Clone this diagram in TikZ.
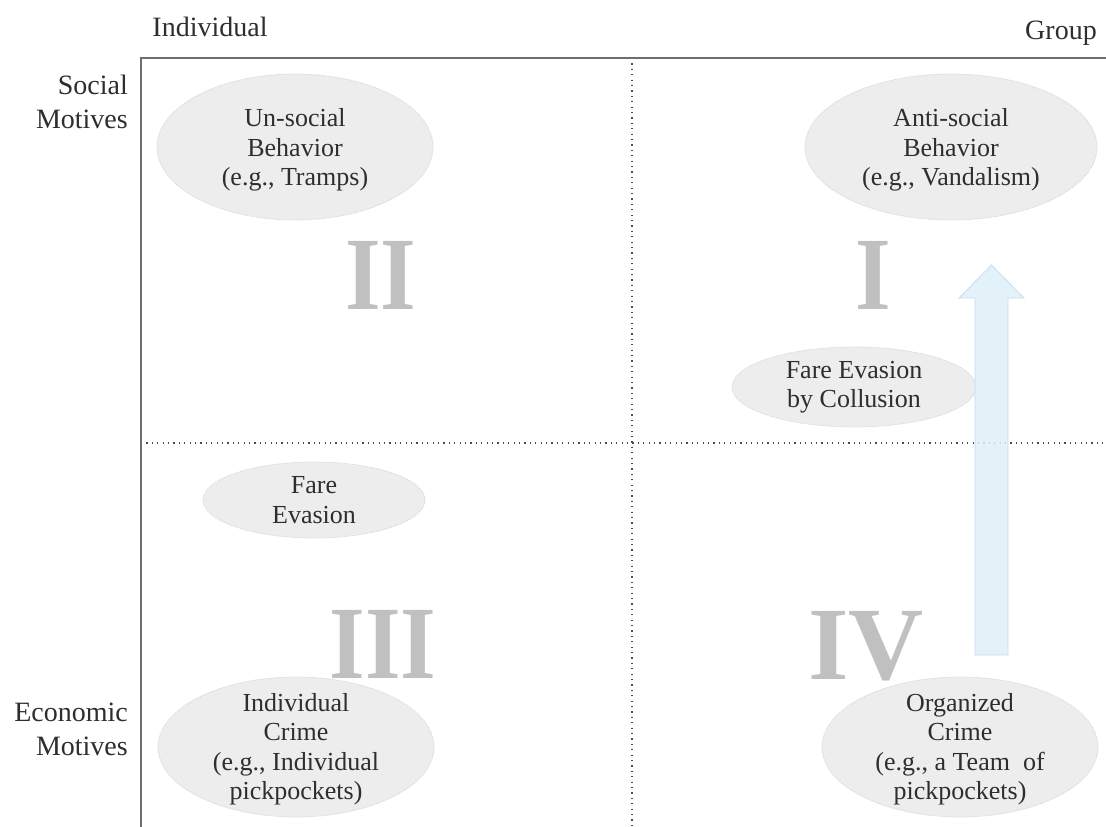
\documentclass[tikz,border=0pt]{standalone}
\usepackage{fontspec}
\setmainfont{Liberation Serif}
\usetikzlibrary{shapes.geometric}
\definecolor{blobfill}{HTML}{EDEDED}
\definecolor{blobedge}{HTML}{DADADA}
\definecolor{numgray}{HTML}{C0C0C0}
\definecolor{txt}{HTML}{2E2E2E}
\definecolor{arrfill}{HTML}{DEEEF8}
\definecolor{arredge}{HTML}{C6DEEE}
\definecolor{axisgray}{HTML}{6E6E6E}
\begin{document}
\begin{tikzpicture}[x=1pt,y=-1pt,
 blob/.style={ellipse, fill=blobfill, draw=blobedge, line width=0.8pt, dash pattern=on 1.5pt off 1pt, inner sep=0pt},
 btext/.style={text=txt, align=center, font=\fontsize{26}{29.5}\selectfont, inner sep=0pt},
 axlabel/.style={text=txt, font=\fontsize{28}{34}\selectfont, inner sep=0pt},
 numeral/.style={text=numgray, font=\fontsize{104}{104}\selectfont\bfseries, inner sep=0pt, anchor=base},
 narrownum/.style={numeral, xscale=0.88, transform shape},
 divider/.style={draw=black!70, line width=1.2pt, dash pattern=on 1.2pt off 4.2pt},
 axisline/.style={draw=axisgray, line width=1.8pt},
 bigarrow/.style={fill=arrfill, draw=arredge, line width=0.8pt, fill opacity=0.85}]

\useasboundingbox (0,0) rectangle (1106,827);

% axes and dividers
\coordinate (origin) at (141,58);
\coordinate (xend) at (1106,58);
\coordinate (yend) at (141,827);
\coordinate (vtop) at (632,58);
\coordinate (vbot) at (632,827);
\coordinate (hleft) at (141,443);
\coordinate (hright) at (1106,443);
\draw[divider] (vtop) -- (vbot);
\draw[divider] (hleft) -- (hright);
\draw[axisline] (xend) -- (origin) -- (yend);

% axis labels
\node[axlabel, anchor=base] (indiv) at (210,36) {Individual};
\node[axlabel, anchor=base] (group) at (1061,39) {Group};
\node[axlabel, anchor=base east, align=right] (social) at (128,128) {Social\\Motives};
\node[axlabel, anchor=base east, align=right] (econ) at (128,755) {Economic\\Motives};

% quadrant numerals
\node[narrownum] (q2) at (381,309) {II};
\node[narrownum] (q1) at (873,309) {I};
\node[narrownum] (q3) at (383,678) {III};
\node[numeral] (q4) at (866,679) {IV};

% ellipses
\node[blob, minimum width=276, minimum height=146] (unsocial) at (295,147) {};
\node[btext] (unsocialtxt) at (295,150) {Un-social\\Behavior\\(e.g., Tramps)};

\node[blob, minimum width=292, minimum height=146] (antisocial) at (951,147) {};
\node[btext] (antisocialtxt) at (951,150) {Anti-social\\Behavior\\(e.g., Vandalism)};

\node[blob, minimum width=244, minimum height=80] (collusion) at (854,387) {};
\node[btext] (collusiontxt) at (collusion) {Fare Evasion\\by Collusion};

\node[blob, minimum width=222, minimum height=76] (fare) at (314,500) {};
\node[btext] (faretxt) at (fare) {Fare\\Evasion};

\node[blob, minimum width=276, minimum height=140] (indcrime) at (296,747) {};
\node[btext] (indcrimetxt) at (296,749) {Individual\\Crime\\(e.g., Individual\\pickpockets)};

\node[blob, minimum width=276, minimum height=140] (orgcrime) at (960,747) {};
\node[btext] (orgcrimetxt) at (960,749) {Organized\\Crime\\(e.g., a Team\ \ of\\pickpockets)};

% upward block arrow
\path[bigarrow] (975,655) -- (975,298) -- (959,298) -- (991.5,265) -- (1024,298) -- (1008,298) -- (1008,655) -- cycle;

\end{tikzpicture}
\end{document}
